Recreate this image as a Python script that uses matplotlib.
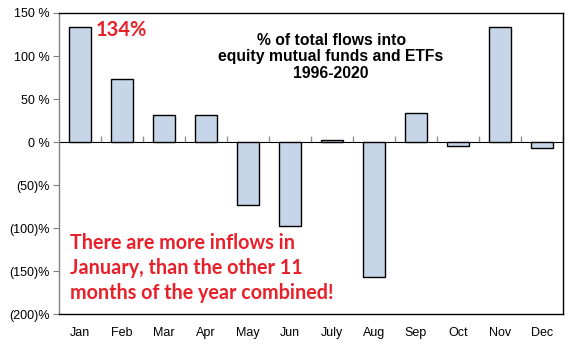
import matplotlib.pyplot as plt
import numpy as np

# Share of total yearly flows into equity mutual funds and ETFs by month
months = ['Jan', 'Feb', 'Mar', 'Apr', 'May', 'Jun', 'July', 'Aug', 'Sep', 'Oct', 'Nov', 'Dec']
flows = [134, 73, 32, 32, -73, -98, 3, -157, 34, -5, 134, -7]
y_ticks = [150, 100, 50, 0, -50, -100, -150, -200]
y_labels = ['150 %', '100 %', '50 %', '0 %', '(50)%', '(100)%', '(150)%', '(200)%']

plt.rcParams['font.family'] = ['Liberation Sans', 'DejaVu Sans']

fig = plt.figure(figsize=(5.75, 3.49), dpi=100)
ax = fig.add_axes([0.103, 0.0994, 0.8756, 0.8634])

x = np.arange(len(months))
ax.bar(x, flows, width=0.52, color='#C6D5E8', edgecolor='black', linewidth=1.0, zorder=3)

ax.set_xlim(-0.5, len(months) - 0.5)
ax.set_ylim(-200, 150)
ax.set_yticks(y_ticks)
ax.set_yticklabels(y_labels, fontsize=9)
ax.set_xticks(x)
ax.set_xticklabels(months, fontsize=9)
ax.tick_params(axis='x', length=0, pad=9)
ax.tick_params(axis='y', length=4, color='#808080', direction='out', pad=3)

for side in ['top', 'right', 'bottom']:
    ax.spines[side].set_color('black')
    ax.spines[side].set_linewidth(1.0)
ax.spines['left'].set_color('#808080')
ax.spines['left'].set_linewidth(1.0)

# zero line with tick marks between the months
zero_pos = (0 - (-200)) / (150 - (-200))
sec = ax.secondary_xaxis(zero_pos)
sec.set_xticks(np.arange(len(months)) + 0.5)
sec.set_xticklabels([])
sec.tick_params(length=4, width=1.0, color='#909090', direction='out')
sec.spines['bottom'].set_color('#909090')
sec.spines['bottom'].set_linewidth(1.0)

ax.text(0.54, 0.935, '% of total flows into\nequity mutual funds and ETFs\n1996-2020',
        transform=ax.transAxes, ha='center', va='top', fontsize=11.3,
        fontweight='bold', linespacing=1.15)

ax.text(0.38, flows[0] - 4, '134%', ha='left', va='center', fontsize=14.5,
        fontweight='bold', color='#E8202A', family=['Lato', 'DejaVu Sans'])

ax.text(0.022, 0.27, 'There are more inflows in\nJanuary, than the other 11\nmonths of the year combined!',
        transform=ax.transAxes, ha='left', va='top', fontsize=14.2,
        fontweight='bold', color='#E8202A', linespacing=1.3,
        family=['Lato', 'DejaVu Sans'])

fig.savefig('out.png', dpi=100)
